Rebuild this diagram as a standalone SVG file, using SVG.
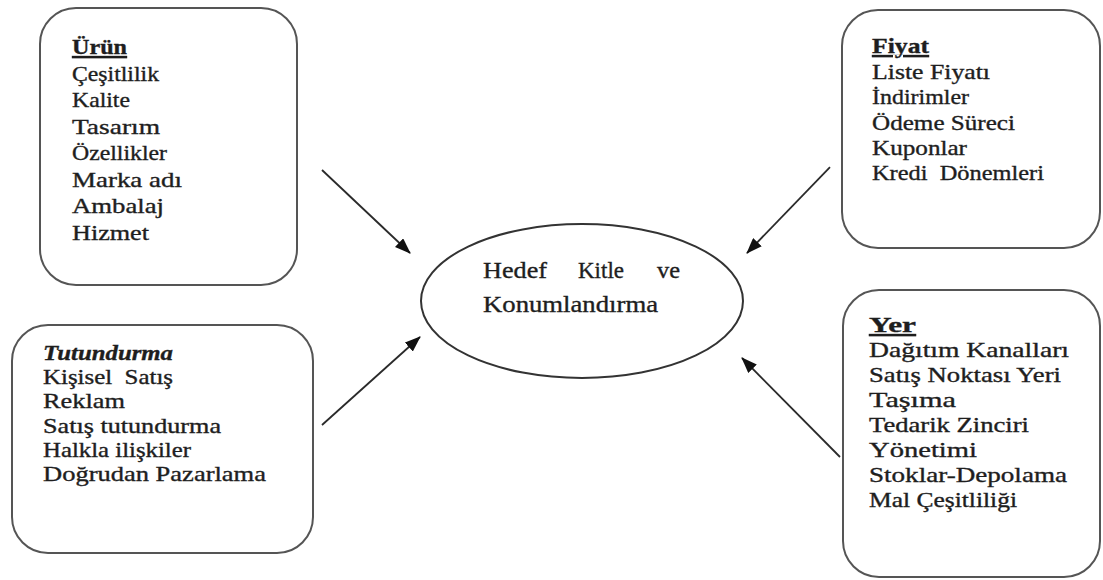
<svg xmlns="http://www.w3.org/2000/svg" width="1103" height="580" viewBox="0 0 1103 580">
<style>
.box{fill:#fff;stroke:#555;stroke-width:2}
.ell{fill:#fff;stroke:#333;stroke-width:2}
.t{font-family:"Liberation Serif","Times New Roman",serif;font-size:21px;fill:#1e1e1e;stroke:#1e1e1e;stroke-width:0.35}
.h{font-weight:bold;text-decoration:underline}
.hi{font-weight:bold;font-style:italic}
.c{font-family:"Liberation Serif","Times New Roman",serif;font-size:23px;fill:#1e1e1e;stroke:#1e1e1e;stroke-width:0.35}
.ar{stroke:#2a2a2a;stroke-width:1.8;fill:none;marker-end:url(#ah)}
</style>
<defs>
<marker id="ah" viewBox="0 0 16 12" refX="15" refY="6" markerWidth="16" markerHeight="12" markerUnits="userSpaceOnUse" orient="auto">
<path d="M0,0 L16,6 L0,12 Z" fill="#111"/>
</marker>
</defs>
<rect width="1103" height="580" fill="#fff"/>
<g id="connectors">
<line class="ar" x1="322" y1="170" x2="410" y2="253"/>
<line class="ar" x1="830" y1="167" x2="747" y2="253"/>
<line class="ar" x1="322" y1="425" x2="420" y2="337"/>
<line class="ar" x1="840" y1="457" x2="742" y2="358"/>
</g>
<g id="urun">
<rect class="box" x="40" y="8" width="257" height="277" rx="36" ry="36"/>
<text class="t h" x="72" y="54" textLength="55" lengthAdjust="spacingAndGlyphs">Ürün</text>
<text class="t" x="72" y="81" textLength="87" lengthAdjust="spacingAndGlyphs">Çeşitlilik</text>
<text class="t" x="72" y="107" textLength="58" lengthAdjust="spacingAndGlyphs">Kalite</text>
<text class="t" x="72" y="134" textLength="88" lengthAdjust="spacingAndGlyphs">Tasarım</text>
<text class="t" x="72" y="160" textLength="95" lengthAdjust="spacingAndGlyphs">Özellikler</text>
<text class="t" x="72" y="187" textLength="110" lengthAdjust="spacingAndGlyphs">Marka adı</text>
<text class="t" x="72" y="213" textLength="92" lengthAdjust="spacingAndGlyphs">Ambalaj</text>
<text class="t" x="72" y="240" textLength="77" lengthAdjust="spacingAndGlyphs">Hizmet</text>
</g>
<g id="fiyat">
<rect class="box" x="842" y="10" width="258" height="238" rx="36" ry="36"/>
<text class="t h" x="872" y="53" textLength="57" lengthAdjust="spacingAndGlyphs">Fiyat</text>
<text class="t" x="872" y="79" textLength="118" lengthAdjust="spacingAndGlyphs">Liste Fiyatı</text>
<text class="t" x="872" y="104" textLength="97" lengthAdjust="spacingAndGlyphs">İndirimler</text>
<text class="t" x="872" y="130" textLength="143" lengthAdjust="spacingAndGlyphs">Ödeme Süreci</text>
<text class="t" x="872" y="155" textLength="95" lengthAdjust="spacingAndGlyphs">Kuponlar</text>
<text class="t" x="872" y="180" textLength="172" lengthAdjust="spacingAndGlyphs" xml:space="preserve">Kredi  Dönemleri</text>
</g>
<g id="tutundurma">
<rect class="box" x="12" y="325" width="301" height="228" rx="36" ry="36"/>
<text class="t hi" x="43" y="360" textLength="130" lengthAdjust="spacingAndGlyphs">Tutundurma</text>
<text class="t" x="43" y="384" textLength="130" lengthAdjust="spacingAndGlyphs" xml:space="preserve">Kişisel  Satış</text>
<text class="t" x="43" y="408" textLength="82" lengthAdjust="spacingAndGlyphs">Reklam</text>
<text class="t" x="43" y="433" textLength="178" lengthAdjust="spacingAndGlyphs">Satış tutundurma</text>
<text class="t" x="43" y="457" textLength="148" lengthAdjust="spacingAndGlyphs">Halkla ilişkiler</text>
<text class="t" x="43" y="481" textLength="223" lengthAdjust="spacingAndGlyphs">Doğrudan Pazarlama</text>
</g>
<g id="yer">
<rect class="box" x="843" y="290" width="257" height="287" rx="36" ry="36"/>
<text class="t h" x="869" y="332" textLength="47" lengthAdjust="spacingAndGlyphs">Yer</text>
<text class="t" x="869" y="357" textLength="200" lengthAdjust="spacingAndGlyphs">Dağıtım Kanalları</text>
<text class="t" x="869" y="382" textLength="192" lengthAdjust="spacingAndGlyphs">Satış Noktası Yeri</text>
<text class="t" x="869" y="407" textLength="87" lengthAdjust="spacingAndGlyphs">Taşıma</text>
<text class="t" x="869" y="432" textLength="160" lengthAdjust="spacingAndGlyphs">Tedarik Zinciri</text>
<text class="t" x="869" y="457" textLength="108" lengthAdjust="spacingAndGlyphs">Yönetimi</text>
<text class="t" x="869" y="482" textLength="198" lengthAdjust="spacingAndGlyphs">Stoklar-Depolama</text>
<text class="t" x="869" y="507" textLength="148" lengthAdjust="spacingAndGlyphs">Mal Çeşitliliği</text>
</g>
<g id="hedef">
<ellipse class="ell" cx="582" cy="301" rx="161" ry="77"/>
<text class="c" y="278"><tspan x="483" textLength="64" lengthAdjust="spacingAndGlyphs">Hedef</tspan> <tspan x="578" textLength="46" lengthAdjust="spacingAndGlyphs">Kitle</tspan> <tspan x="657" textLength="23" lengthAdjust="spacingAndGlyphs">ve</tspan></text>
<text class="c" x="483" y="312" textLength="175" lengthAdjust="spacingAndGlyphs">Konumlandırma</text>
</g>
</svg>
